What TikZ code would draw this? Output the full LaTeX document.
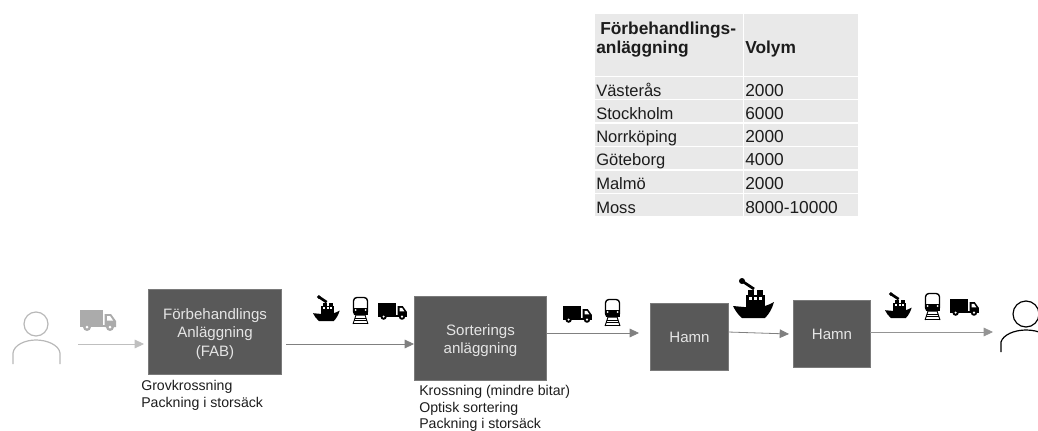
\documentclass[tikz,border=0pt]{standalone}
\usepackage{fontspec}
\setmainfont{Liberation Sans}
\usetikzlibrary{arrows.meta}
\definecolor{boxfill}{HTML}{595959}
\definecolor{boxedge}{HTML}{7A7A7A}
\definecolor{cell}{HTML}{E9E9E9}
\definecolor{ink}{HTML}{1C1C1C}
\tikzset{
  procbox/.style={draw=boxedge,fill=boxfill,line width=.75pt,text=white!90!black,align=center,anchor=north west,inner sep=0pt,
    font=\fontsize{11.3}{14.2}\selectfont},
  flow/.style={line width=.6pt,-{Triangle[length=7pt,width=6.5pt]}},
  note/.style={align=left,anchor=north west,inner sep=0pt,text=ink,font=\fontsize{10.6}{12.5}\selectfont},
  cellbox/.style={fill=cell,draw=none,anchor=north west,inner sep=0pt},
  celltext/.style={anchor=base west,inner sep=0pt,text=ink,font=\fontsize{12.4}{15}\selectfont},
  volltext/.style={anchor=base west,inner sep=0pt,text=ink,font=\fontsize{13}{15}\selectfont},
  headtext/.style={anchor=base west,inner sep=0pt,text=ink,font=\fontsize{13}{15}\selectfont\bfseries},
  pics/truck/.style={code={
    \fill[#1] (0,0) rectangle (23,15);
    \fill[#1] (0,15) rectangle (36,17);
    \fill[#1] (24.5,4) -- (31,4) -- (36,11) -- (36,17) -- (24.5,17) -- cycle;
    \fill[white] (27,6) -- (30,6) -- (33,10.5) -- (27,10.5) -- cycle;
    \foreach \wx in {7,30}{
      \fill[#1] (\wx,17) circle[radius=4];
      \fill[white] (\wx,17) circle[radius=1.5];}
  }},
  pics/ship/.style={code={
    \fill[#1] (0,28) -- (22,30) .. controls (30,29) and (36,27) .. (41,24) .. controls (39,31) and (36,36) .. (32,40) -- (9,40) .. controls (5,37) and (2,32) .. (0,28) -- cycle;
    \fill[#1] (13,17) rectangle (32,30);
    \fill[#1] (15,12) rectangle (21,17);
    \fill[#1] (24,12) rectangle (30,17);
    \foreach \wx in {16,21.2,26.4}{\fill[white] (\wx,18.5) rectangle +(2.8,3);}
    \draw[#1,line width=2pt] (9,3) -- (21,11);
    \fill[#1] (9,3) circle[radius=3];
  }},
  pics/train/.style={code={
    \draw[#1,fill=white,line width=1pt,rounded corners=2.5pt] (1.5,.5) rectangle (15.5,18);
    \fill[#1] (1.5,10.5) rectangle (15.5,18);
    \fill[white] (3.5,13) circle[radius=1] (13.5,13) circle[radius=1];
    \draw[#1,line width=.7pt] (4,18) -- (1,27) (13,18) -- (16,27);
    \draw[#1,line width=.7pt] (3,21) -- (14,21) (2.2,23.5) -- (14.8,23.5) (1.4,26) -- (15.6,26);
  }},
}
\begin{document}
\begin{tikzpicture}[x=.75pt,y=-.75pt]
\useasboundingbox (0,0) rectangle (1038,431);
\clip (0,0) rectangle (1038,431);

% table
\node[cellbox,minimum width=148*.75pt,minimum height=62*.75pt] (h1) at (595,14) {};
\node[cellbox,minimum width=114*.75pt,minimum height=62*.75pt] (h2) at (744,14) {};
\node[headtext] (ht1) at (600,34.5) {Förbehandlings-};
\node[headtext] (ht1b) at (596,53.5) {anläggning};
\node[headtext] (ht2) at (745,53.5) {Volym};
\foreach \ytop/\ybase/\name/\vol/\id in {
  77/97/Västerås/2000/a,
  100/120/Stockholm/6000/b,
  124/143/Norrköping/2000/c,
  147/166/Göteborg/4000/d,
  171/190/Malmö/2000/e,
  194/213/Moss/8000-10000/f}{
  \node[cellbox,minimum width=148*.75pt,minimum height=22*.75pt] (l\id) at (595,\ytop) {};
  \node[cellbox,minimum width=114*.75pt,minimum height=22*.75pt] (r\id) at (744,\ytop) {};
  \node[celltext] (lt\id) at (596,\ybase) {\name};
  \node[volltext] (rt\id) at (745,\ybase) {\vol};
}

% boxes
\node[procbox,minimum width=133*.75pt,minimum height=85*.75pt] (fab) at (148,289) {\rule{0pt}{11.3pt}Förbehandlings\\Anläggning\\(FAB)};
\node[procbox,minimum width=132*.75pt,minimum height=84*.75pt] (sort) at (414,296) {\rule{0pt}{11.3pt}Sorterings\\anläggning};
\node[procbox,minimum width=78*.75pt,minimum height=67*.75pt] (hamna) at (650,303) {Hamn};
\node[procbox,minimum width=77*.75pt,minimum height=67*.75pt] (hamnb) at (793,300) {Hamn};

% notes
\node[note] (n1) at (141,380) {Grovkrossning\\Packning i storsäck};
\node[note] (n2) at (419,385) {Krossning (mindre bitar)\\Optisk sortering\\Packning i storsäck};

% persons
\node[draw=black!28,line width=.9pt,circle,minimum size=24*.75pt,inner sep=0pt] (pa) at (36,324) {};
\draw[black!28,line width=.9pt] (13,364) -- (13,353) .. controls (14,345) and (25,340) .. (36,340) .. controls (47,340) and (59,345) .. (60,353) -- (60,364);
\node[draw=black,line width=.9pt,circle,minimum size=26*.75pt,inner sep=0pt] (pb) at (1026,314) {};
\draw[black,line width=.9pt] (1001,352) -- (1001,342) .. controls (1003,335) and (1014,330) .. (1026,330) .. controls (1038,330) and (1050,335) .. (1051,342);

% connectors
\coordinate (a0) at (78,344);
\coordinate (a1) at (144,344);
\coordinate (b0) at (286,344);
\coordinate (b1) at (414,344);
\coordinate (c0) at (547,333);
\coordinate (c1) at (639,333);
\coordinate (d0) at (728,332);
\coordinate (d1) at (789,334);
\coordinate (e0) at (870,332);
\coordinate (e1) at (993,332);
\draw[flow,draw=black!25,fill=black!25] (a0) -- (a1);
\draw[flow,draw=black!50] (b0) -- (b1);
\draw[flow,draw=black!50] (c0) -- (c1);
\draw[flow,draw=black!50] (d0) -- (d1);
\draw[flow,draw=black!42] (e0) -- (e1);

% icons
\pic at (80,310) {truck=black!33};
\pic at (313,295) [scale=.65] {ship=black};
\pic at (352,297) {train=black};
\pic at (378,303) [scale=.8] {truck=black};
\pic at (563,306) [scale=.8] {truck=black};
\pic at (604,299) {train=black};
\pic at (733,278) {ship=black};
\pic at (885,292) [scale=.65] {ship=black};
\pic at (924,293) {train=black};
\pic at (950,299) [scale=.8] {truck=black};
\end{tikzpicture}
\end{document}
